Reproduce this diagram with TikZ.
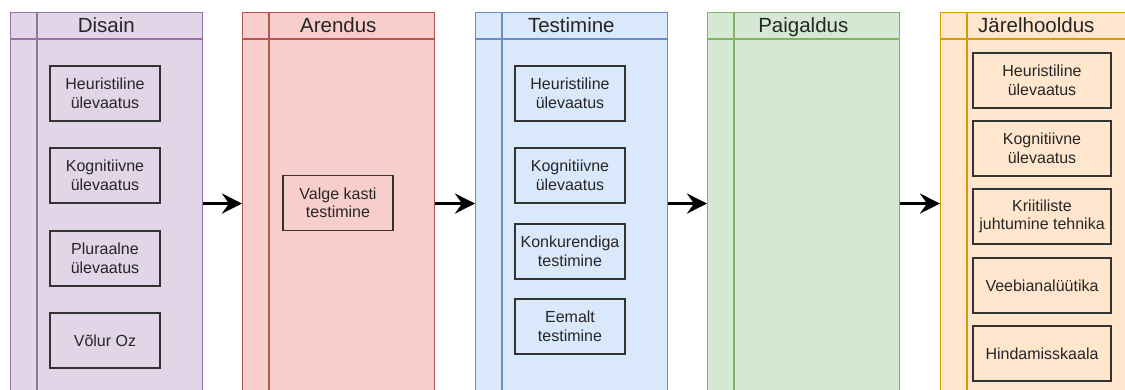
\documentclass[tikz,border=0pt]{standalone}
\usepackage{fontspec}
\setmainfont{Liberation Sans}
\usetikzlibrary{arrows.meta,positioning}
\definecolor{dsfill}{HTML}{E1D5E7}
\definecolor{dsdraw}{HTML}{9673A6}
\definecolor{arfill}{HTML}{F8CECC}
\definecolor{ardraw}{HTML}{B85450}
\definecolor{tefill}{HTML}{DAE8FC}
\definecolor{tedraw}{HTML}{6C8EBF}
\definecolor{pafill}{HTML}{D5E8D4}
\definecolor{padraw}{HTML}{82B366}
\definecolor{jafill}{HTML}{FFE6CC}
\definecolor{jadraw}{HTML}{D79B00}
\begin{document}
\begin{tikzpicture}[
  x=1pt, y=-1pt,
  lane/.style={draw, line width=1.1pt, minimum width=191.5pt, minimum height=382pt, anchor=north west, inner sep=0pt},
  lanetitle/.style={anchor=base, font=\fontsize{20.5}{24}\selectfont, text=black!85},
  item/.style={draw=black!80, line width=1.3pt, minimum width=110pt, minimum height=55pt, align=center, inner sep=2pt, font=\fontsize{16}{18.5}\selectfont, text=black!85},
  arr/.style={-{Stealth[length=20pt, width=20pt, inset=7pt]}, line width=3.5pt},
]
\useasboundingbox (0,0) rectangle (1125,389);
\clip (0,0) rectangle (1125,389);

% lanes, left to right
\foreach \nm/\x/\col/\txt in {dis/10/ds/Disain, are/242/ar/Arendus, tes/475/te/Testimine, pai/707/pa/Paigaldus, jar/940/ja/J\"arelhooldus} {
  \node[lane, fill=\col fill, draw=\col draw] (\nm) at (\x,12) {};
  \draw[\col draw, line width=1.1pt] ([yshift=-27pt]\nm.north west) -- ([yshift=-27pt]\nm.north east);
  \draw[\col draw, line width=1.1pt] ([xshift=27pt]\nm.north west) -- ([xshift=27pt]\nm.south west);
  \node[lanetitle] (\nm t) at ([yshift=-20pt]\nm.north) {\txt};
}

% Disain
\node[item] (dis1) at (105, 93.5)  {Heuristiline\\ülevaatus};
\node[item] (dis2) at (105, 175.5) {Kognitiivne\\ülevaatus};
\node[item] (dis3) at (105, 258.5) {Pluraalne\\ülevaatus};
\node[item] (dis4) at (105, 340.5) {Võlur Oz};

% Arendus
\node[item] (are1) at (338, 203) {Valge kasti\\testimine};

% Testimine
\node[item] (tes1) at (570, 93.5)  {Heuristiline\\ülevaatus};
\node[item] (tes2) at (570, 175.5) {Kognitiivne\\ülevaatus};
\node[item] (tes3) at (570, 251.5) {Konkurendiga\\testimine};
\node[item] (tes4) at (570, 326.5) {Eemalt\\testimine};

% Järelhooldus
\node[item, minimum width=138pt] (jar1) at (1042, 80.5)  {Heuristiline\\ülevaatus};
\node[item, minimum width=138pt] (jar2) at (1042, 148.5) {Kognitiivne\\ülevaatus};
\node[item, minimum width=138pt] (jar3) at (1042, 216.5) {Kriitiliste\\juhtumine tehnika};
\node[item, minimum width=138pt] (jar4) at (1042, 285.5) {Veebianalüütika};
\node[item, minimum width=138pt] (jar5) at (1042, 353.5) {Hindamisskaala};

% phase flow
\draw[arr] (dis.east) -- (are.west);
\draw[arr] (are.east) -- (tes.west);
\draw[arr] (tes.east) -- (pai.west);
\draw[arr] (pai.east) -- (jar.west);
\end{tikzpicture}
\end{document}
